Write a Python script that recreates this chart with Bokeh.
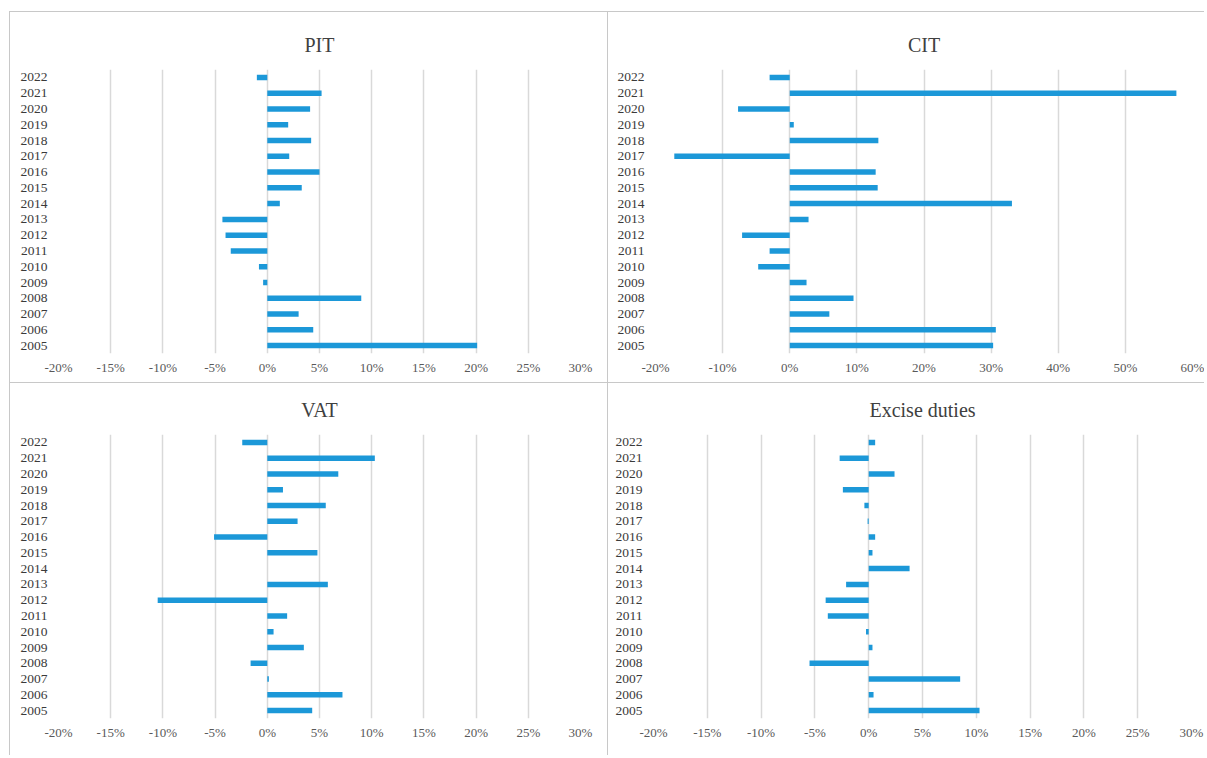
from bokeh.plotting import figure
from bokeh.layouts import row, column
from bokeh.models import FactorRange, FixedTicker, PrintfTickFormatter, Range1d, Title
from bokeh.embed import file_html
from bokeh.resources import INLINE

years = [str(y) for y in range(2005, 2023)]

pit = [20.1, 4.4, 3.0, 9.0, -0.4, -0.8, -3.5, -4.0, -4.3, 1.2,
       3.3, 5.0, 2.1, 4.2, 2.0, 4.1, 5.2, -1.0]
cit = [30.3, 30.7, 5.9, 9.5, 2.5, -4.7, -3.0, -7.1, 2.8, 33.1,
       13.1, 12.8, -17.2, 13.2, 0.6, -7.7, 57.6, -3.0]
vat = [4.3, 7.2, 0.15, -1.6, 3.5, 0.6, 1.9, -10.5, 5.8, 0.0,
       4.8, -5.1, 2.9, 5.6, 1.5, 6.8, 10.3, -2.4]
excise = [10.3, 0.45, 8.5, -5.5, 0.35, -0.25, -3.8, -4.0, -2.1, 3.8,
          0.35, 0.6, -0.1, -0.4, -2.4, 2.4, -2.7, 0.6]

ticks_std = [-20, -15, -10, -5, 0, 5, 10, 15, 20, 25, 30]
ticks_cit = [-20, -10, 0, 10, 20, 30, 40, 50, 60]

FONT = "Liberation Serif"
BAR = "#1c98d8"
GRID = "#d9d9d9"
BORDER = "1px solid #c8c8c8"


def panel(title, vals, ticks, width, height, mb, styles):
    p = figure(width=width, height=height, output_backend="svg", toolbar_location=None,
               y_range=FactorRange(factors=years),
               x_range=Range1d(ticks[0], ticks[-1]),
               min_border_left=mb[0], min_border_right=mb[1],
               min_border_top=mb[2], min_border_bottom=mb[3],
               styles=styles)
    p.title = Title(text=title, align="center", offset=-9, standoff=27,
                    text_font=FONT, text_font_size="20px", text_font_style="normal",
                    text_color="#404040")
    p.hbar(y=years, left=0, right=vals, height=0.35, fill_color=BAR, line_color=None)
    p.outline_line_color = None
    p.xaxis.ticker = FixedTicker(ticks=ticks)
    p.xaxis.formatter = PrintfTickFormatter(format="%d%%")
    for ax in (p.xaxis, p.yaxis):
        ax.axis_line_color = None
        ax.major_tick_line_color = None
        ax.minor_tick_line_color = None
        ax.major_tick_out = 0
        ax.major_tick_in = 0
        ax.major_label_text_font = FONT
    p.xaxis.major_label_text_font_size = "13px"
    p.yaxis.major_label_text_font_size = "13.5px"
    p.xaxis.major_label_text_color = "#595959"
    p.yaxis.major_label_text_color = "#3a3a3a"
    p.xaxis.major_label_standoff = 6
    p.yaxis.major_label_standoff = 11
    p.xgrid.ticker = FixedTicker(ticks=ticks)
    p.xgrid.grid_line_color = GRID
    p.xgrid.grid_line_width = 1.5
    p.ygrid.grid_line_color = None
    return p


st = {"border-top": BORDER, "border-left": BORDER}
p1 = panel("PIT", pit, ticks_std, 598, 371, (48, 28, 57, 30), st)
p2 = panel("CIT", cit, ticks_cit, 597, 371, (47, 13, 57, 30), st)
p3 = panel("VAT", vat, ticks_std, 598, 373, (48, 28, 51, 38), st)
p4 = panel("Excise duties", excise, ticks_std, 597, 373, (45, 14, 51, 38), st)

layout = column(row(p1, p2, spacing=0), row(p3, p4, spacing=0), spacing=0,
                margin=(11, 0, 0, 9))

open("out.html", "w").write(file_html(layout, INLINE))
